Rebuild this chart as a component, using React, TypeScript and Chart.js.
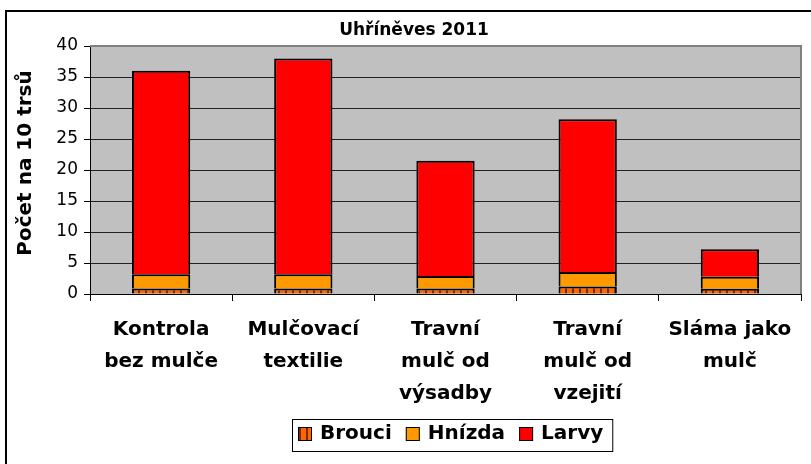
import React, { useEffect, useRef } from "react";
import { Chart, registerables } from "chart.js";

Chart.register(...registerables);

// ---- data ----
const categories: string[][] = [
  ["Kontrola", "bez mulče"],
  ["Mulčovací", "textilie"],
  ["Travní", "mulč od", "výsadby"],
  ["Travní", "mulč od", "vzejití"],
  ["Sláma jako", "mulč"],
];
const seriesNames = ["Brouci", "Hnízda", "Larvy"];
const brouci = [0.9, 0.9, 0.9, 1.2, 0.85];
const hnizda = [2.3, 2.3, 2.0, 2.35, 1.95];
const larvy = [32.8, 34.8, 18.6, 24.65, 4.4];
const yMin = 0;
const yMax = 40;
const yStep = 5;
const chartTitle = "Uhříněves 2011";
const yAxisTitle = "Počet na 10 trsů";

const FONT = "'DejaVu Sans', 'Liberation Sans', Arial, sans-serif";

function makeStripePattern(): CanvasPattern | string {
  const c = document.createElement("canvas");
  c.width = 7;
  c.height = 7;
  const g = c.getContext("2d");
  if (!g) return "#FF6600";
  g.fillStyle = "#FF6600";
  g.fillRect(0, 0, 7, 7);
  g.fillStyle = "#7A2A00";
  g.fillRect(5, 0, 2, 7);
  const p = g.createPattern(c, "repeat");
  return p || "#FF6600";
}

export default function App() {
  const ref = useRef<HTMLCanvasElement | null>(null);

  useEffect(() => {
    if (!ref.current) return;
    const stripe = makeStripePattern();
    const colors: any[] = [stripe, "#FF9900", "#FF0000"];

    const decor = {
      id: "decor",
      beforeDraw(chart: any) {
        const { ctx, chartArea: a } = chart;
        ctx.save();
        ctx.fillStyle = "#FFFFFF";
        ctx.fillRect(0, 0, chart.width, chart.height);
        ctx.fillStyle = "#C0C0C0";
        ctx.fillRect(a.left, a.top, a.right - a.left, a.bottom - a.top);
        ctx.restore();
      },
      afterDraw(chart: any) {
        const { ctx, chartArea: a } = chart;
        ctx.save();
        // plot border (top / right)
        ctx.fillStyle = "#808080";
        ctx.fillRect(a.left, a.top - 1, a.right - a.left + 1, 2);
        ctx.fillRect(a.right - 1, a.top - 1, 2, a.bottom - a.top + 1);
        // outer frame
        ctx.fillStyle = "#000000";
        ctx.fillRect(5, 10, chart.width, 2);
        ctx.fillRect(5, 10, 2, chart.height);
        // title
        ctx.fillStyle = "#000";
        ctx.font = `bold 17px ${FONT}`;
        ctx.textAlign = "center";
        ctx.textBaseline = "middle";
        ctx.fillText(chartTitle, 414, 31);
        // y axis title
        ctx.save();
        ctx.translate(26, 163);
        ctx.rotate(-Math.PI / 2);
        ctx.font = `bold 20px ${FONT}`;
        ctx.fillText(yAxisTitle, 0, 0);
        ctx.restore();
        // legend
        ctx.font = `bold 20px ${FONT}`;
        ctx.textAlign = "left";
        ctx.textBaseline = "middle";
        const boxLeft = 292;
        let x = 298;
        const cy = 434;
        const sw = 14;
        seriesNames.forEach((name, i) => {
          ctx.fillStyle = colors[i];
          ctx.fillRect(x, cy - sw / 2, sw, sw);
          ctx.strokeStyle = "#000";
          ctx.lineWidth = 1;
          ctx.strokeRect(x + 0.5, cy - sw / 2 + 0.5, sw - 1, sw - 1);
          const tx = x + sw + 8;
          ctx.fillStyle = "#000";
          ctx.fillText(name, tx, cy);
          x = tx + ctx.measureText(name).width + 14;
        });
        ctx.strokeStyle = "#000";
        ctx.lineWidth = 1;
        ctx.strokeRect(boxLeft + 0.5, 419.5, x - boxLeft - 5, 32);
        ctx.restore();
      },
    };

    const chart = new Chart(ref.current, {
      type: "bar",
      data: {
        labels: categories as any,
        datasets: [
          { label: seriesNames[0], data: brouci, backgroundColor: stripe as any },
          { label: seriesNames[1], data: hnizda, backgroundColor: "#FF9900" },
          { label: seriesNames[2], data: larvy, backgroundColor: "#FF0000" },
        ].map((d) => ({
          ...d,
          borderColor: "#000000",
          borderWidth: 2,
          barPercentage: 0.41,
          categoryPercentage: 1,
        })),
      },
      options: {
        animation: false,
        responsive: true,
        maintainAspectRatio: false,
        layout: { padding: { top: 46, right: 10, left: 0, bottom: 0 } },
        plugins: {
          legend: { display: false },
          title: { display: false },
          tooltip: { enabled: false },
        },
        scales: {
          x: {
            stacked: true,
            ticks: {
              color: "#000",
              font: { family: FONT, size: 20, weight: "bold", lineHeight: 1.6 },
              padding: 13,
              maxRotation: 0,
              autoSkip: false,
            },
            grid: {
              display: true,
              drawOnChartArea: false,
              drawTicks: true,
              tickLength: 7,
              tickColor: "#000",
              offset: true,
            },
            border: { color: "#000", width: 1 },
            afterFit: (s: any) => {
              s.height = 170;
            },
          },
          y: {
            stacked: true,
            min: yMin,
            max: yMax,
            ticks: {
              stepSize: yStep,
              color: "#000",
              font: { family: FONT, size: 17 },
              padding: 6,
            },
            grid: {
              color: "#222222",
              lineWidth: 1,
              tickColor: "#000",
              tickLength: 6,
              drawTicks: true,
            },
            border: { color: "#000", width: 1 },
            afterFit: (s: any) => {
              s.width = 90;
            },
          },
        },
      } as any,
      plugins: [decor],
    });
    return () => chart.destroy();
  }, []);

  return (
    <div style={{ position: "absolute", left: 0, top: 0, width: 811, height: 464 }}>
      <canvas ref={ref} />
    </div>
  );
}
